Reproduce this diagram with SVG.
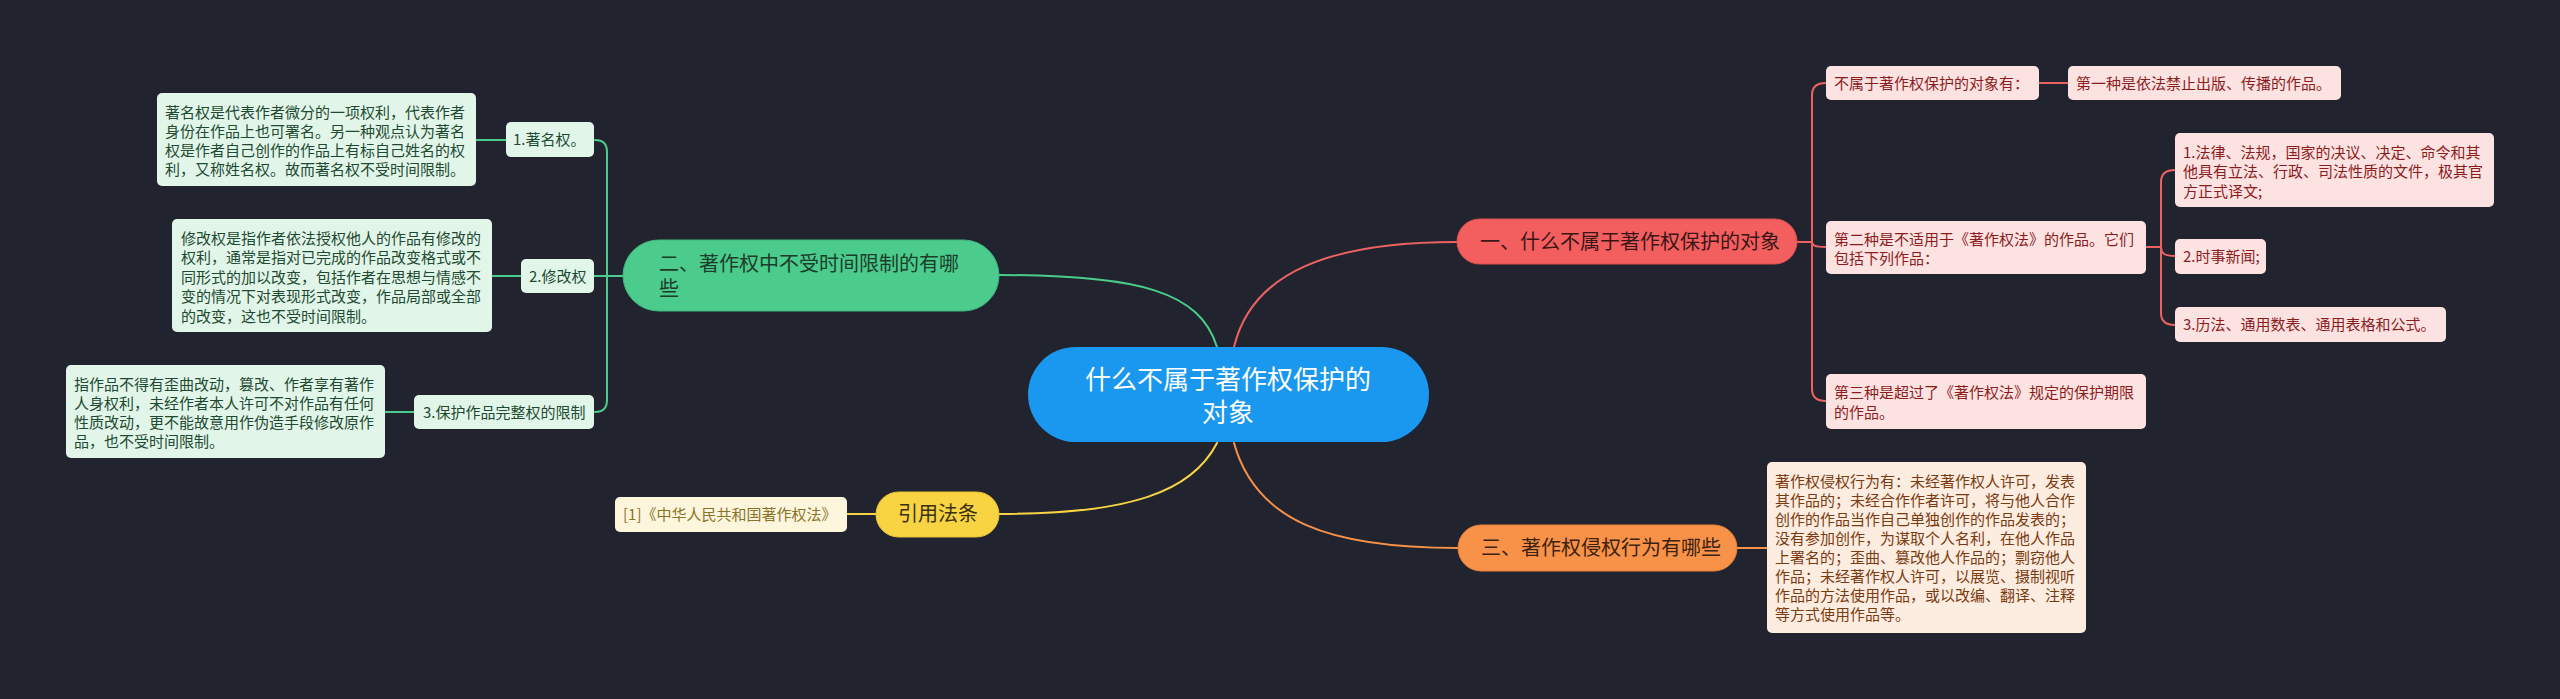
<svg xmlns="http://www.w3.org/2000/svg" width="2560" height="699" viewBox="0 0 2560 699">
<style>
text{font-family:"Noto Sans CJK SC","Noto Sans",sans-serif;}
.c{fill:none;stroke-width:2;stroke-linecap:round;}
.cg{stroke:#4bcb8c;}
.cr{stroke:#ec6262;}
.co{stroke:#f79248;}
.cy{stroke:#f8d443;}
.gd{fill:#e2f5e9;}
.gt{fill:#1d4a31;font-size:15px;}
.rd{fill:#fde2e2;}
.rt{fill:#8c1c1c;font-size:15px;}
.od{fill:#fdece0;}
.ot{fill:#7a3b10;font-size:15px;}
.yd{fill:#fdf6dd;}
.yt{fill:#8a7228;font-size:15px;}
.mt{font-size:20px;}
</style>
<rect width="2560" height="699" fill="#21242f"/>
<g id="connectors">
  <path class="c cg" d="M999,275 C1140,275 1200,292 1217,347"/>
  <path class="c cr" d="M1234,347 C1252,272 1330,242 1457,242"/>
  <path class="c cy" d="M1217,443 C1192,492 1130,514 999,514"/>
  <path class="c co" d="M1234,443 C1256,522 1330,548 1458,548"/>
  <path class="c cg" d="M623,276 H607 V152 Q607,140 595,140"/>
  <path class="c cg" d="M623,276 H594"/>
  <path class="c cg" d="M623,276 H607 V400 Q607,412 595,412"/>
  <path class="c cg" d="M506,140 H476"/>
  <path class="c cg" d="M521,276 H492"/>
  <path class="c cg" d="M414,412 H385"/>
  <path class="c cr" d="M1797,242 H1812 V95 Q1812,83 1826,83"/>
  <path class="c cr" d="M1797,242 H1812 C1812,245 1814,247 1826,247"/>
  <path class="c cr" d="M1797,242 H1812 V389 Q1812,401 1826,401"/>
  <path class="c cr" d="M2039,83 H2068"/>
  <path class="c cr" d="M2146,247 H2161 V182 Q2161,170 2175,170"/>
  <path class="c cr" d="M2146,247 H2161 C2161,253 2164,256 2175,256"/>
  <path class="c cr" d="M2146,247 H2161 V313 Q2161,325 2175,325"/>
  <path class="c co" d="M1737,548 H1767"/>
  <path class="c cy" d="M876,514 H847"/>
</g>
<g id="root">
  <rect x="1028" y="347" width="401" height="95" rx="47.5" fill="#1a97ee"/>
  <text x="1228" y="389" font-size="26" fill="#ffffff" text-anchor="middle">什么不属于著作权保护的</text>
  <text x="1228" y="422" font-size="26" fill="#ffffff" text-anchor="middle">对象</text>
</g>
<g id="n-green">
  <rect x="623" y="240" width="376" height="71" rx="35.5" fill="#4bcb8c" stroke="#3fb87c" stroke-width="1"/>
  <text class="mt" x="659" y="271" fill="#1b3d2a">二、著作权中不受时间限制的有哪</text>
  <text class="mt" x="659" y="296" fill="#1b3d2a">些</text>
</g>
<g id="g1">
  <rect class="gd" x="506" y="122" width="88" height="35" rx="5"/>
  <text class="gt" x="513" y="145">1.著名权。</text>
</g>
<g id="g1d">
  <rect class="gd" x="157" y="93" width="319" height="93" rx="5"/>
  <text class="gt" x="165" y="117.5">著名权是代表作者微分的一项权利，代表作者</text>
  <text class="gt" x="165" y="136.5">身份在作品上也可署名。另一种观点认为著名</text>
  <text class="gt" x="165" y="155.5">权是作者自己创作的作品上有标自己姓名的权</text>
  <text class="gt" x="165" y="174.5">利，又称姓名权。故而著名权不受时间限制。</text>
</g>
<g id="g2">
  <rect class="gd" x="521" y="259" width="73" height="34" rx="5"/>
  <text class="gt" x="529" y="281.5">2.修改权</text>
</g>
<g id="g2d">
  <rect class="gd" x="172" y="219" width="320" height="113" rx="5"/>
  <text class="gt" x="181" y="243.5">修改权是指作者依法授权他人的作品有修改的</text>
  <text class="gt" x="181" y="263">权利，通常是指对已完成的作品改变格式或不</text>
  <text class="gt" x="181" y="282.5">同形式的加以改变，包括作者在思想与情感不</text>
  <text class="gt" x="181" y="302">变的情况下对表现形式改变，作品局部或全部</text>
  <text class="gt" x="181" y="321.5">的改变，这也不受时间限制。</text>
</g>
<g id="g3">
  <rect class="gd" x="414" y="395" width="180" height="34" rx="5"/>
  <text class="gt" x="423" y="417.5">3.保护作品完整权的限制</text>
</g>
<g id="g3d">
  <rect class="gd" x="66" y="365" width="319" height="93" rx="5"/>
  <text class="gt" x="74" y="389.5">指作品不得有歪曲改动，篡改、作者享有著作</text>
  <text class="gt" x="74" y="408.5">人身权利，未经作者本人许可不对作品有任何</text>
  <text class="gt" x="74" y="427.5">性质改动，更不能故意用作伪造手段修改原作</text>
  <text class="gt" x="74" y="446.5">品，也不受时间限制。</text>
</g>
<g id="n-red">
  <rect x="1457" y="219" width="340" height="45" rx="22.5" fill="#f35e5e" stroke="#e04f4f" stroke-width="1"/>
  <text class="mt" x="1480" y="249" fill="#3b1616">一、什么不属于著作权保护的对象</text>
</g>
<g id="r1">
  <rect class="rd" x="1826" y="66" width="213" height="34" rx="5"/>
  <text class="rt" x="1834" y="88.5">不属于著作权保护的对象有：</text>
</g>
<g id="r1a">
  <rect class="rd" x="2068" y="66" width="273" height="34" rx="5"/>
  <text class="rt" x="2076" y="88.5">第一种是依法禁止出版、传播的作品。</text>
</g>
<g id="r2">
  <rect class="rd" x="1826" y="221" width="320" height="53" rx="5"/>
  <text class="rt" x="1834" y="244.5">第二种是不适用于《著作权法》的作品。它们</text>
  <text class="rt" x="1834" y="264">包括下列作品：</text>
</g>
<g id="r2a">
  <rect class="rd" x="2175" y="133" width="319" height="74" rx="5"/>
  <text class="rt" x="2183" y="157.5">1.法律、法规，国家的决议、决定、命令和其</text>
  <text class="rt" x="2183" y="177">他具有立法、行政、司法性质的文件，极其官</text>
  <text class="rt" x="2183" y="196.5">方正式译文;</text>
</g>
<g id="r2b">
  <rect class="rd" x="2175" y="239" width="91" height="35" rx="5"/>
  <text class="rt" x="2183" y="262">2.时事新闻;</text>
</g>
<g id="r2c">
  <rect class="rd" x="2175" y="307" width="271" height="35" rx="5"/>
  <text class="rt" x="2183" y="330">3.历法、通用数表、通用表格和公式。</text>
</g>
<g id="r3">
  <rect class="rd" x="1826" y="374" width="320" height="55" rx="5"/>
  <text class="rt" x="1834" y="398">第三种是超过了《著作权法》规定的保护期限</text>
  <text class="rt" x="1834" y="418">的作品。</text>
</g>
<g id="n-orange">
  <rect x="1458" y="525" width="279" height="46" rx="23" fill="#f79248" stroke="#e5823a" stroke-width="1"/>
  <text class="mt" x="1481" y="555" fill="#3d2210">三、著作权侵权行为有哪些</text>
</g>
<g id="o1">
  <rect class="od" x="1767" y="462" width="319" height="171" rx="5"/>
  <text class="ot" x="1775" y="486.5">著作权侵权行为有：未经著作权人许可，发表</text>
  <text class="ot" x="1775" y="505.5">其作品的；未经合作作者许可，将与他人合作</text>
  <text class="ot" x="1775" y="524.5">创作的作品当作自己单独创作的作品发表的；</text>
  <text class="ot" x="1775" y="543.5">没有参加创作，为谋取个人名利，在他人作品</text>
  <text class="ot" x="1775" y="562.5">上署名的；歪曲、篡改他人作品的；剽窃他人</text>
  <text class="ot" x="1775" y="581.5">作品；未经著作权人许可，以展览、摄制视听</text>
  <text class="ot" x="1775" y="600.5">作品的方法使用作品，或以改编、翻译、注释</text>
  <text class="ot" x="1775" y="619.5">等方式使用作品等。</text>
</g>
<g id="n-yellow">
  <rect x="876" y="492" width="123" height="45" rx="22.5" fill="#f8d443" stroke="#e6c236" stroke-width="1"/>
  <text class="mt" x="938" y="521" fill="#3a3112" text-anchor="middle">引用法条</text>
</g>
<g id="y1">
  <rect class="yd" x="615" y="497" width="232" height="35" rx="5"/>
  <text class="yt" x="623" y="519.5">[1]《中华人民共和国著作权法》</text>
</g>
</svg>
